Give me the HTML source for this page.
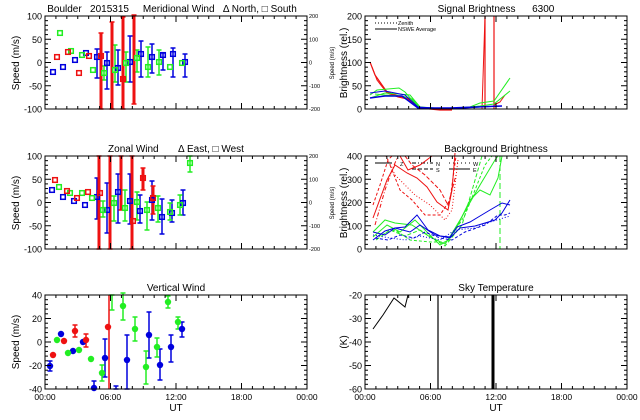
<!DOCTYPE html>
<html><head><meta charset="utf-8"><style>
html,body{margin:0;padding:0;background:#fff;}
svg{display:block;}
text{font-family:"Liberation Sans",sans-serif;fill:#000;white-space:pre;}
</style></head><body>
<svg id="s" width="640" height="420" viewBox="0 0 640 420" xmlns="http://www.w3.org/2000/svg" xml:space="preserve">
<rect width="640" height="420" fill="#fff"/>
<g font-size="10">
<text x="172" y="12" text-anchor="middle">Boulder   2015315     Meridional Wind   Δ North, □ South</text>
<text x="496" y="12" text-anchor="middle">Signal Brightness      6300</text>
<text x="176" y="152" text-anchor="middle">Zonal Wind       Δ East, □ West</text>
<text x="496" y="152" text-anchor="middle">Background Brightness</text>
<text x="176" y="291" text-anchor="middle">Vertical Wind</text>
<text x="496" y="291" text-anchor="middle">Sky Temperature</text>
<text transform="translate(19,63) rotate(-90)" text-anchor="middle">Speed (m/s)</text>
<text transform="translate(19,203) rotate(-90)" text-anchor="middle">Speed (m/s)</text>
<text transform="translate(19,342) rotate(-90)" text-anchor="middle">Speed (m/s)</text>
<text transform="translate(347,63) rotate(-90)" text-anchor="middle">Brightness (rel.)</text>
<text transform="translate(347,203) rotate(-90)" text-anchor="middle">Brightness (rel.)</text>
<text transform="translate(347,342) rotate(-90)" text-anchor="middle">(K)</text>
<text transform="translate(334,63) rotate(-90)" text-anchor="middle" font-size="6">Speed (m/s)</text>
<text transform="translate(334,203) rotate(-90)" text-anchor="middle" font-size="6">Speed (m/s)</text>
<text x="176" y="411" text-anchor="middle">UT</text>
<text x="496" y="411" text-anchor="middle">UT</text>
</g>
<g font-size="5.5">
<text x="398" y="25">Zenith</text>
<text x="398" y="31">NSWE Average</text>
<text x="400" y="166">Z</text><text x="436" y="166">N</text><text x="436" y="172">S</text><text x="473" y="166">W</text><text x="473" y="172">E</text>
</g>
<g id="g"></g>
</svg>
<script>
var NS="http://www.w3.org/2000/svg",G=document.getElementById('g'),S=document.getElementById('s');
function el(t,a,p){var e=document.createElementNS(NS,t);for(var k in a)e.setAttribute(k,a[k]);(p||G).appendChild(e);return e;}
function txt(x,y,s,sz,anc){var e=el('text',{x:x,y:y,'font-size':sz,'text-anchor':anc||'end'},S);e.textContent=s;}
function line(x1,y1,x2,y2,c,w,d){var a={x1:x1,y1:y1,x2:x2,y2:y2,stroke:c,'stroke-width':w||1};if(d)a['stroke-dasharray']=d;el('line',a);}
function poly(p,c,w,d){var a={points:p.map(function(q){return q.join(',')}).join(' '),fill:'none',stroke:c,'stroke-width':w||1};if(d)a['stroke-dasharray']=d;el('polyline',a);}
function frame(x0,y0,x1,y1,xl,yt,rt){
 el('rect',{x:x0,y:y0,width:x1-x0,height:y1-y0,fill:'none',stroke:'#000','stroke-width':1});
 var w=x1-x0;
 for(var h=0;h<=24;h++){var x=x0+w*h/24,L=(h%6==0)?6:3;line(x,y1,x,y1-L,'#000');line(x,y0,x,y0+L,'#000');}
 if(xl){['00:00','06:00','12:00','18:00','00:00'].forEach(function(s,i){txt(x0+w*i/4,400,s,8.5,'middle');});}
 var n=yt.length;for(var i=0;i<n;i++){var y=y1-(y1-y0)*i/(n-1);line(x0,y,x0+6,y,'#000');line(x1,y,x1-6,y,'#000');txt(x0-3,y+3.5,yt[i],9);
  if(i<n-1){for(var j=1;j<5;j++){var yy=y-(y1-y0)/(n-1)*j/5;line(x0,yy,x0+3,yy,'#000');line(x1,yy,x1-3,yy,'#000');}}}
 if(rt){for(var i=0;i<rt.length;i++){var y=y1-(y1-y0)*i/(rt.length-1);txt(x1+2,y+2,rt[i],5.5,'start');}}
}
var B='#0000dd',Gr='#22ee22',R='#ee1111';
function sq(p,c){p.forEach(function(q){el('rect',{x:q[0]-2.3,y:q[1]-2.3,width:4.6,height:4.6,fill:'none',stroke:c,'stroke-width':1.5});});}
function err(p,c,w){p.forEach(function(q){line(q[0],q[1],q[0],q[2],c,w||1.5);line(q[0]-2.5,q[1],q[0]+2.5,q[1],c,1.5);line(q[0]-2.5,q[2],q[0]+2.5,q[2],c,1.5);});}
function dot(p,c){p.forEach(function(q){el('circle',{cx:q[0],cy:q[1],r:3.2,fill:c});});}
err([[97,49,78],[107,52,89],[118,50,85],[130,36,82],[141,41,77],[152,44,73],[163,53,70],[173,48,77],[185,54,77]],B);
err([[115,45,82],[126,52,82],[137,50,72],[148,47,77],[159,50,75],[104,66,80]],Gr);
err([[101,33,109],[112,22,109],[123,17,109],[134,15,104]],R,3);
sq([[53,72],[63,67],[75,60],[86,53],[97,57],[107,63],[118,68],[130,62],[141,54],[152,57],[163,55],[173,54],[185,62]],B);
sq([[60,33],[71,51],[82,55],[93,70],[104,73],[115,70],[126,63],[137,58],[148,67],[159,62],[170,67],[182,63]],Gr);
sq([[57,57],[68,52],[79,73],[89,56],[101,56],[123,79]],R);
frame(45,16,307,109,false,['-100','-50','0','50','100'],['-200','-100','0','100','200']);
err([[97,178,219],[107,183,233],[118,174,223],[130,174,224],[140,195,223],[152,181,220],[162,199,234],[172,200,222],[183,190,215]],B);
err([[103,201,217],[114,196,221],[125,190,221],[137,192,220],[147,202,230],[158,196,222],[170,203,220],[180,195,215],[190,156,172]],Gr);
err([[99,156,249],[110,156,249],[121,156,210],[132,156,249],[143,168,190],[153,186,214]],R,3);
sq([[52,190],[63,197],[74,201],[85,205],[97,197],[107,210],[118,192],[130,201],[140,211],[152,200],[162,217],[172,213],[183,203]],B);
sq([[59,187],[70,193],[82,193],[92,198],[103,210],[114,203],[125,208],[137,202],[147,210],[158,208],[170,212],[180,205],[190,163]],Gr);
sq([[55,180],[67,191],[77,198],[88,192],[100,193],[133,221],[143,178],[153,198]],R);
frame(45,156,307,249,false,['-100','-50','0','50','100'],['-200','-100','0','100','200']);
err([[50,361,371],[105,339,377],[127,335,389],[149,312,358],[160,349,380],[171,335,362],[182,322,337],[94,381,389],[116,386,389]],B);
err([[102,365,381],[112,295,310],[123,293,320],[135,317,341],[146,351,384],[157,338,357],[168,296,308],[178,317,329]],Gr);
err([[75,325,337],[86,334,347]],R);
line(109,295,109,389,R,1.5);
dot([[50,366],[61,334],[73,351],[83,342],[94,388],[105,358],[127,360],[149,335],[160,365],[171,347],[182,329]],B);
dot([[57,340],[68,353],[79,350],[91,359],[102,373],[123,306],[135,329],[146,367],[157,347],[168,302],[178,322]],Gr);
dot([[53,355],[64,341],[75,331],[86,340],[108,327]],R);
frame(45,295,307,389,true,['-40','-20','0','20','40'],null);
line(375,23,397,23,'#000',1,'1,2');line(375,29,397,29,'#000',1);
poly([[370,62],[375,75],[387,92],[398,96],[407,98],[420,108],[440,110],[452,110]],R,1.2);
poly([[372,67],[377,80],[387,93],[398,97],[407,99],[418,108]],R,1);
line(485,16,485,109,R,1.2);line(494,16,494,109,R,1.2);line(482,109,485,16,R,1);
poly([[494,105],[500,102],[505,95]],R,1);
poly([[370,95],[377,90],[399,88],[405,92],[418,107],[440,109],[470,107],[480,103],[494,101],[510,78]],Gr,1);
poly([[370,98],[385,93],[398,94],[410,95],[420,107],[450,109],[480,106],[494,104],[510,91]],Gr,1);
poly([[375,94],[385,95],[402,96],[412,99],[420,108]],Gr,1);
poly([[370,93],[385,91],[405,95],[418,107],[450,109],[480,107],[502,106]],B,1);
poly([[370,98],[385,96],[402,96],[418,108],[450,108],[502,106]],B,1.5);
frame(365,16,627,109,false,['0','50','100','150','200'],null);
line(375,163,392,163,'#000',1);line(412,163,433,163,'#000',1,'4,2,1,2');line(412,169,433,169,'#000',1,'4,2');
line(449,163,470,163,'#000',1,'1,3');line(449,169,470,169,'#000',1);
poly([[373,218],[387,180],[395,165],[407,173],[417,178],[427,187],[437,202],[448,210],[452,190],[455,153]],R,1);
poly([[373,205],[380,185],[388,160],[392,156]],R,1,'3,2');
poly([[375,225],[385,190],[392,170],[398,156]],R,1,'4,2,1,2');
poly([[390,165],[400,190],[412,200],[425,215],[440,215],[450,200],[456,156]],R,1,'3,2');
poly([[386,156],[395,175],[405,185],[415,195],[430,205],[445,220],[452,210],[458,160]],R,1,'1,2');
poly([[400,156],[408,170],[420,165],[432,156]],R,1);
poly([[405,156],[412,165],[425,175],[440,190],[448,205],[456,175]],R,1,'4,2');
poly([[373,237],[387,225],[400,232],[415,220],[440,245],[448,240],[460,220],[480,185],[495,160],[498,156]],Gr,1);
poly([[373,232],[385,220],[395,223],[412,225],[430,237],[445,244],[458,225],[470,200],[480,190],[490,195],[498,178],[502,156]],Gr,1);
poly([[376,240],[390,230],[405,236],[420,230],[445,246],[462,225],[482,156]],Gr,1,'4,2');
poly([[378,236],[395,230],[410,240],[430,242],[448,242],[465,215],[485,165],[492,156]],Gr,1,'3,2');
line(500,156,500,249,Gr,1,'6,3');
poly([[373,232],[385,235],[395,228],[405,227],[417,215],[428,230],[440,236],[450,237],[457,227],[470,222],[480,216],[490,210],[502,203],[510,205]],B,1);
poly([[373,240],[385,231],[395,228],[410,232],[420,225],[435,235],[450,238],[460,228],[475,226],[495,220],[502,213],[510,200]],B,1);
poly([[375,238],[388,240],[400,235],[414,238],[425,232],[440,238],[452,240],[465,232],[485,225],[498,215],[505,215],[510,213]],B,1,'3,2');
poly([[373,235],[390,238],[405,240],[420,236],[440,240],[455,230],[475,228],[490,222],[510,216]],B,1,'1,2');
frame(365,156,627,249,false,['0','100','200','300','400'],null);
poly([[373,329],[383,315],[394,298],[405,307],[408,295]],'#000',1);
line(438,295,438,389,'#000',1.2);line(493,295,493,389,'#000',3);
frame(365,295,627,389,true,['-60','-50','-40','-30','-20'],null);
</script>
</body></html>
